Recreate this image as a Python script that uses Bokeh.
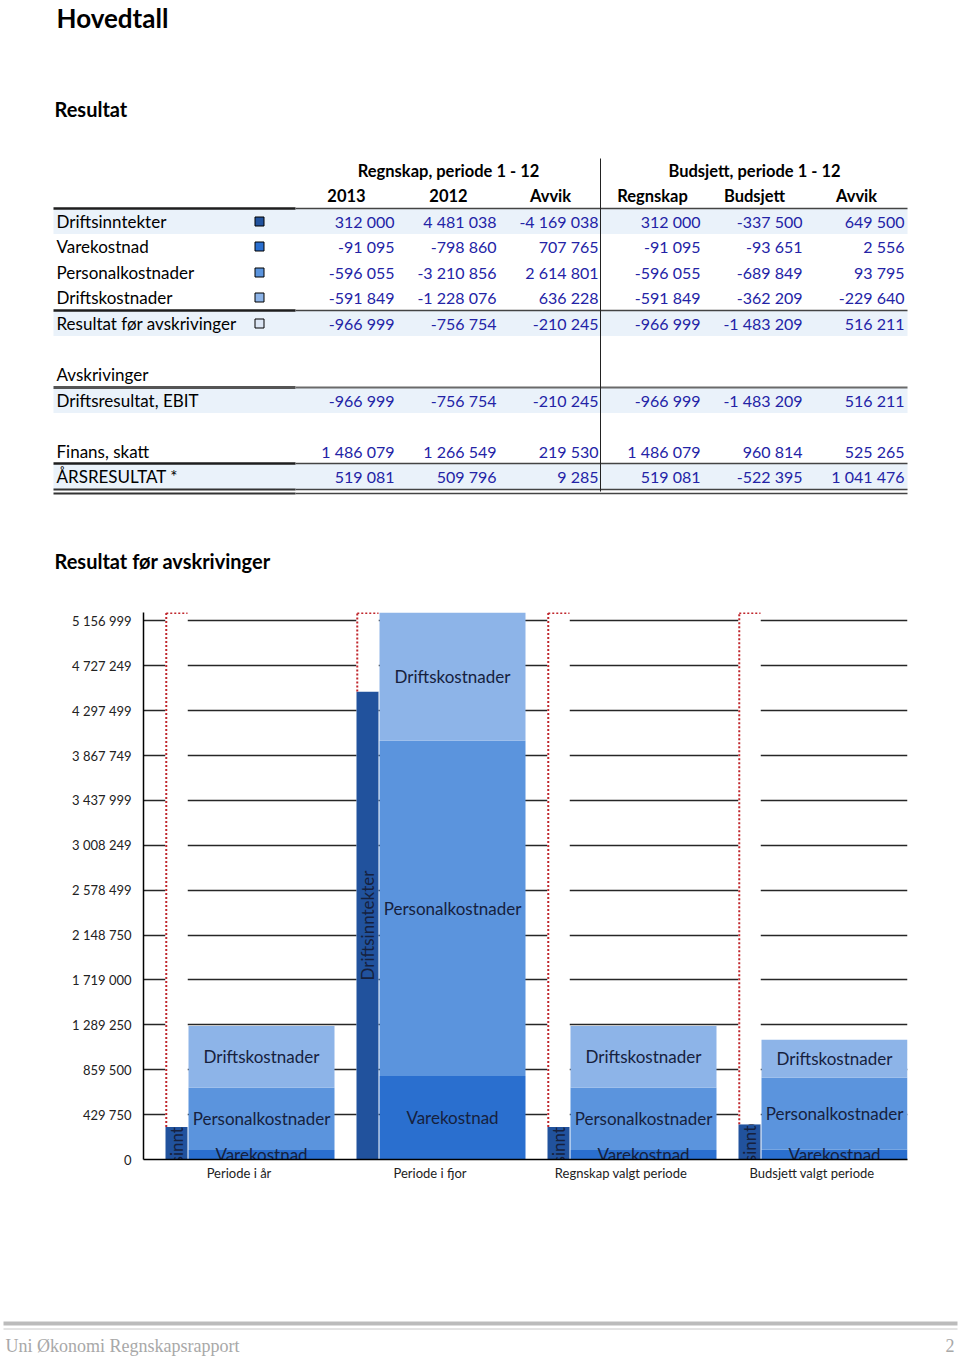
import math
from bokeh.plotting import figure
from bokeh.models import ColumnDataSource, Range1d, FactorRange, FixedTicker, CustomJSTickFormatter
from bokeh.transform import dodge
from bokeh.core.properties import value
from bokeh.embed import file_html
from bokeh.resources import INLINE

# ---------------- data ----------------
row_labels = ["Driftsinntekter", "Varekostnad", "Personalkostnader", "Driftskostnader",
              "Resultat før avskrivinger", "Avskrivinger", "Driftsresultat, EBIT",
              "Finans, skatt", "ÅRSRESULTAT *"]
group_headers = ["Regnskap, periode 1 - 12", "Budsjett, periode 1 - 12"]
col_headers = ["2013", "2012", "Avvik", "Regnskap", "Budsjett", "Avvik"]
col_2013 = [312000, -91095, -596055, -591849, -966999, None, -966999, 1486079, 519081]
col_2012 = [4481038, -798860, -3210856, -1228076, -756754, None, -756754, 1266549, 509796]
col_avvik_periode = [-4169038, 707765, 2614801, 636228, -210245, None, -210245, 219530, 9285]
col_regnskap = [312000, -91095, -596055, -591849, -966999, None, -966999, 1486079, 519081]
col_budsjett = [-337500, -93651, -689849, -362209, -1483209, None, -1483209, 960814, -522395]
col_avvik_budsjett = [649500, 2556, 93795, -229640, 516211, None, 516211, 525265, 1041476]

categories = ["Periode i år", "Periode i fjor", "Regnskap valgt periode", "Budsjett valgt periode"]
driftsinntekter = [312000, 4481038, 312000, 337500]
varekostnad = [91095, 798860, 91095, 93651]
personalkostnader = [596055, 3210856, 596055, 689849]
driftskostnader = [591849, 1228076, 591849, 362209]
y_ticks = [0, 429750, 859500, 1289250, 1719000, 2148750, 2578499, 3008249,
           3437999, 3867749, 4297499, 4727249, 5156999]
footer_text = "Uni Økonomi Regnskapsrapport"
page_number = "2"

# ---------------- styles ----------------
FONT = value("Lato")
C_INN = "#21529D"
C_VARE = "#2A6FCF"
C_PERS = "#5B94DD"
C_DRIFT = "#8DB4E8"
C_RES = "#DCE6F4"
NUM_COLOR = "#2323A6"
LABEL_COLOR = "#16213E"
BAND = "#EAF2FA"


def fmt(v):
    return "" if v is None else f"{v:,}".replace(",", " ")


# ---------------- top: headings + table ----------------
top = figure(width=960, height=590, x_range=Range1d(0, 960), y_range=Range1d(590, 0),
             x_axis_location=None, y_axis_location=None, toolbar_location=None,
             output_backend="svg", min_border=0)
top.grid.visible = False
top.outline_line_color = None

top.text(x=[56], y=[17], text=["Hovedtall"], text_font=FONT, text_font_style="bold",
         text_font_size=value("26px"), text_color="#000000", text_baseline="middle")
top.text(x=[54], y=[108], text=["Resultat"], text_font=FONT, text_font_style="bold",
         text_font_size=value("20px"), text_color="#000000", text_baseline="middle")
top.text(x=[54], y=[560], text=["Resultat før avskrivinger"], text_font=FONT,
         text_font_style="bold", text_font_size=value("20px"), text_color="#000000",
         text_baseline="middle")

row_y = [221, 246, 272, 297, 323, 374, 400, 451, 476]
band_rows = [0, 4, 6, 8]
top.quad(left=53, right=907,
         top=[row_y[i] - 12.5 for i in band_rows],
         bottom=[row_y[i] + 12.5 for i in band_rows],
         fill_color=BAND, line_color=None)

# group headers and column headers
top.text(x=[448, 754], y=[170, 170], text=group_headers, text_font=FONT,
         text_font_style="bold", text_font_size=value("16.5px"), text_color="#000000",
         text_align="center", text_baseline="middle")
col_centers = [346, 448, 550, 652, 754, 856]
top.text(x=col_centers, y=[195] * 6, text=col_headers, text_font=FONT,
         text_font_style="bold", text_font_size=value("16.5px"), text_color="#000000",
         text_align="center", text_baseline="middle")

# row labels
top.text(x=[56] * len(row_labels), y=row_y, text=row_labels, text_font=FONT,
         text_font_size=value("17px"), text_color="#000000", text_baseline="middle")

# legend squares
legend_colors = [C_INN, C_VARE, C_PERS, C_DRIFT, C_RES]
top.rect(x=[259] * 5, y=row_y[:5], width=9, height=9, fill_color=legend_colors,
         line_color="#000000", line_width=1)

# numbers
columns = [col_2013, col_2012, col_avvik_periode, col_regnskap, col_budsjett, col_avvik_budsjett]
col_right = [394, 496, 598, 700, 802, 904]
nx, ny, nt = [], [], []
for cx, col in zip(col_right, columns):
    for yy, v in zip(row_y, col):
        if v is not None:
            nx.append(cx)
            ny.append(yy)
            nt.append(fmt(v))
top.text(x=nx, y=ny, text=nt, text_font=FONT, text_font_size=value("16px"),
         text_color=NUM_COLOR, text_align="right", text_baseline="middle")

# table rules
for yy, wl, wr, cl, cr in [(208, 2.5, 1.5, "#1E1E1E", "#444444"),
                           (310, 2.5, 1.5, "#1E1E1E", "#444444"),
                           (387, 3, 2, "#555555", "#6A6A6A"),
                           (463, 2.5, 1.5, "#1E1E1E", "#444444"),
                           (489, 2, 1.5, "#333333", "#444444"),
                           (493, 2, 1.5, "#333333", "#444444")]:
    top.segment(x0=[53], y0=[yy], x1=[295], y1=[yy], line_color=cl, line_width=wl)
    top.segment(x0=[295], y0=[yy], x1=[907], y1=[yy], line_color=cr, line_width=wr)
top.segment(x0=[600], y0=[158], x1=[600], y1=[491], line_color="#222222", line_width=1)

# ---------------- chart ----------------
totals = [v + p + d for v, p, d in zip(varekostnad, personalkostnader, driftskostnader)]
ymax = max(totals)

ch = figure(width=960, height=605,
            x_range=FactorRange(factors=categories, range_padding=0, factor_padding=0),
            y_range=Range1d(0, ymax), toolbar_location=None, output_backend="svg",
            min_border_left=143, min_border_right=53, min_border_top=22, min_border_bottom=36)
ch.outline_line_color = None
ch.xgrid.visible = False
ch.ygrid.ticker = FixedTicker(ticks=y_ticks)
ch.ygrid.grid_line_color = "#262626"
ch.ygrid.grid_line_width = 1.5

ch.yaxis.ticker = FixedTicker(ticks=y_ticks)
ch.yaxis.formatter = CustomJSTickFormatter(
    code="return Math.round(tick).toString().replace(/\\B(?=(\\d{3})+(?!\\d))/g, ' ');")
ch.yaxis.major_tick_line_color = None
ch.yaxis.minor_tick_line_color = None
ch.yaxis.major_tick_out = 0
ch.yaxis.major_tick_in = 0
ch.yaxis.minor_tick_out = 0
ch.yaxis.axis_line_color = "#000000"
ch.yaxis.axis_line_width = 1.5
ch.yaxis.major_label_standoff = 12
ch.yaxis.major_label_text_font = "Lato"
ch.yaxis.major_label_text_font_size = "13px"
ch.yaxis.major_label_text_color = "#222222"

ch.xaxis.major_tick_line_color = None
ch.xaxis.minor_tick_line_color = None
ch.xaxis.major_tick_out = 0
ch.xaxis.major_tick_in = 0
ch.xaxis.minor_tick_out = 0
ch.xaxis.axis_line_color = "#000000"
ch.xaxis.axis_line_width = 1.5
ch.xaxis.major_label_standoff = 5
ch.xaxis.major_label_text_font = "Lato"
ch.xaxis.major_label_text_font_size = "13px"
ch.xaxis.major_label_text_color = "#222222"

narrow_w = 22 / 191
narrow_off = -0.5 + 33 / 191
wide_w = 146 / 191
wide_off = -0.5 + 118 / 191
slot_l = narrow_off - narrow_w / 2 + 0.004
slot_r = narrow_off + narrow_w / 2

cat_src = ColumnDataSource(dict(
    cat=categories,
    inn=driftsinntekter,
    inn_mid=[v / 2 for v in driftsinntekter],
    inn_label=["Driftsinntekter"] * len(categories),
))

seg = dict(cat=[], bottom=[], top=[], mid=[], color=[], label=[])
for i, c in enumerate(categories):
    base = 0
    for val, col, lab in [(varekostnad[i], C_VARE, "Varekostnad"),
                          (personalkostnader[i], C_PERS, "Personalkostnader"),
                          (driftskostnader[i], C_DRIFT, "Driftskostnader")]:
        seg["cat"].append(c)
        seg["bottom"].append(base)
        seg["top"].append(base + val)
        seg["mid"].append(base + val / 2)
        seg["color"].append(col)
        seg["label"].append(lab)
        base += val
seg_src = ColumnDataSource(seg)

xn = dodge("cat", narrow_off, range=ch.x_range)
xw = dodge("cat", wide_off, range=ch.x_range)

# white slot hiding the gridlines
ch.vbar(x=xn, width=narrow_w, bottom=0, top=ymax, fill_color="white", line_color=None,
        source=cat_src)
# stacked cost bars
ch.vbar(x=xw, width=wide_w, bottom="bottom", top="top", fill_color="color",
        line_color=None, source=seg_src)
ch.text(x=xw, y="mid", text="label", text_align="center", text_baseline="middle",
        text_font=FONT, text_font_size=value("17px"), text_color=LABEL_COLOR, source=seg_src)
# revenue bars
ch.vbar(x=xn, width=narrow_w, bottom=0, top="inn", fill_color=C_INN, line_color=None,
        source=cat_src)
ch.text(x=xn, y="inn_mid", text="inn_label", angle=math.pi / 2, text_align="center",
        text_baseline="middle", text_font=FONT, text_font_size=value("17px"),
        text_color=LABEL_COLOR, source=cat_src)
# cover label overflow above revenue bars
ch.vbar(x=xn, width=narrow_w, bottom="inn", top=ymax, fill_color="white", line_color=None,
        source=cat_src)
# dotted red outline
ch.segment(x0=dodge("cat", slot_l, range=ch.x_range), y0="inn",
           x1=dodge("cat", slot_l, range=ch.x_range), y1=ymax,
           line_color="#C0272D", line_width=2, line_dash="2 2", source=cat_src)
ch.segment(x0=dodge("cat", slot_l, range=ch.x_range), y0=ymax,
           x1=dodge("cat", slot_r, range=ch.x_range), y1=ymax,
           line_color="#C0272D", line_width=3, line_dash="2 2", source=cat_src)

# ---------------- footer ----------------
ft = figure(width=960, height=162, x_range=Range1d(0, 960), y_range=Range1d(1357, 1195),
            x_axis_location=None, y_axis_location=None, toolbar_location=None,
            output_backend="svg", min_border=0)
ft.grid.visible = False
ft.outline_line_color = None
ft.segment(x0=[3], y0=[1323], x1=[957], y1=[1323], line_color="#BBBBBB", line_width=4)
ft.segment(x0=[3], y0=[1328.5], x1=[957], y1=[1328.5], line_color="#C8C8C8", line_width=1)
ft.text(x=[5], y=[1345], text=[footer_text], text_font=value("Liberation Serif"),
        text_font_size=value("18px"), text_color="#A8A8A8", text_baseline="middle")
ft.text(x=[954], y=[1345], text=[page_number], text_font=value("Liberation Serif"),
        text_font_size=value("18px"), text_color="#A8A8A8", text_baseline="middle",
        text_align="right")

open("out.html", "w").write(file_html([top, ch, ft], INLINE))
